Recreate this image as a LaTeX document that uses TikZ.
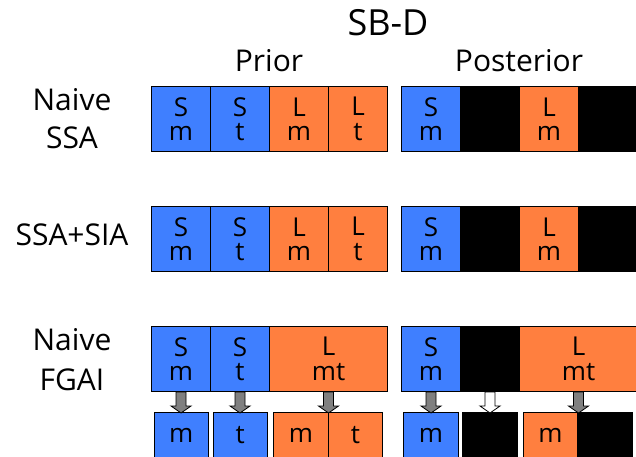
\documentclass[tikz,border=0pt]{standalone}
\usepackage{fontspec}
\setmainfont{Open Sans}
\definecolor{sblue}{HTML}{3F7FFF}
\definecolor{sorange}{HTML}{FF7F3F}
\definecolor{sgray}{HTML}{808080}
\newcommand\dnarrow[2]{%
  \draw[#1] (#2) ++(-5,0) -- ++(0,14) -- ++(-5,0) -- ++(10,7) -- ++(10,-7) -- ++(-5,0) -- ++(0,-14) -- cycle;}
\begin{document}
\begin{tikzpicture}[x=1pt,y=-1pt,
  bx/.style={draw=black, line width=1pt, inner sep=0pt, anchor=north west, align=center,
    font=\fontsize{26}{24.5}\selectfont, minimum height=65pt, minimum width=59pt},
  sm/.style={bx, minimum height=46pt},
  bl/.style={fill=sblue},
  og/.style={fill=sorange},
  bk/.style={fill=black},
  lbl/.style={anchor=base, inner sep=0pt, font=\fontsize{30}{30}\selectfont},
  ttl/.style={anchor=base, inner sep=0pt, font=\fontsize{36}{36}\selectfont},
  garrow/.style={draw=black, line width=0.8pt, fill=sgray, line join=miter},
  warrow/.style={draw=black, line width=0.8pt, fill=white, line join=miter}]
\useasboundingbox (0,0) rectangle (636,456);
\fill[white] (0,0) rectangle (636,456);
% titles
\node[ttl] (title) at (388,35.7) {SB-D};
\node[lbl] (prior) at (269,71.5) {Prior};
\node[lbl] (post) at (519,71.5) {Posterior};
% row labels
\node[lbl] (l1a) at (72,110) {Naive};
\node[lbl] (l1b) at (72,148) {SSA};
\node[lbl] (l2) at (72,245) {SSA+SIA};
\node[lbl] (l3a) at (72,350) {Naive};
\node[lbl] (l3b) at (72,390) {FGAI};
% row 1
\node[bx,bl] (p1a) at (151,86) {S\\m};
\node[bx,bl] (p1b) at (210,86) {S\\t};
\node[bx,og] (p1c) at (269,86) {L\\m};
\node[bx,og] (p1d) at (328,86) {L\\t};
\node[bx,bl] (q1a) at (401,86) {S\\m};
\node[bx,bk] (q1b) at (460,86) {};
\node[bx,og] (q1c) at (519,86) {L\\m};
\node[bx,bk] (q1d) at (578,86) {};
% row 2
\node[bx,bl] (p2a) at (151,206) {S\\m};
\node[bx,bl] (p2b) at (210,206) {S\\t};
\node[bx,og] (p2c) at (269,206) {L\\m};
\node[bx,og] (p2d) at (328,206) {L\\t};
\node[bx,bl] (q2a) at (401,206) {S\\m};
\node[bx,bk] (q2b) at (460,206) {};
\node[bx,og] (q2c) at (519,206) {L\\m};
\node[bx,bk] (q2d) at (578,206) {};
% row 3
\node[bx,bl] (p3a) at (151,326) {S\\m};
\node[bx,bl] (p3b) at (210,326) {S\\t};
\node[bx,og,minimum width=118pt] (p3c) at (269,326) {L\\mt};
\node[bx,bl] (q3a) at (401,326) {S\\m};
\node[bx,bk] (q3b) at (460,326) {};
\node[bx,og,minimum width=118pt] (q3c) at (519,326) {L\\mt};
% small boxes
\node[sm,bl,minimum width=54.5pt] (s1) at (153.5,412) {m};
\node[sm,bl,minimum width=54.5pt] (s2) at (212.5,412) {t};
\node[sm,og,minimum width=55pt] (s3) at (273,412) {m};
\node[sm,og,minimum width=54pt] (s4) at (328,412) {t};
\node[sm,bl,minimum width=55pt] (u1) at (403,412) {m};
\node[sm,bk,minimum width=55pt] (u2) at (462,412) {};
\node[sm,og,minimum width=54pt] (u3) at (523,412) {m};
\node[sm,bk,minimum width=55pt] (u4) at (577,412) {};
% arrows
\dnarrow{garrow}{p3a.south}
\dnarrow{garrow}{p3b.south}
\dnarrow{garrow}{p3c.south}
\dnarrow{garrow}{q3a.south}
\dnarrow{warrow}{q3b.south}
\dnarrow{garrow}{q3c.south}
\end{tikzpicture}
\end{document}
